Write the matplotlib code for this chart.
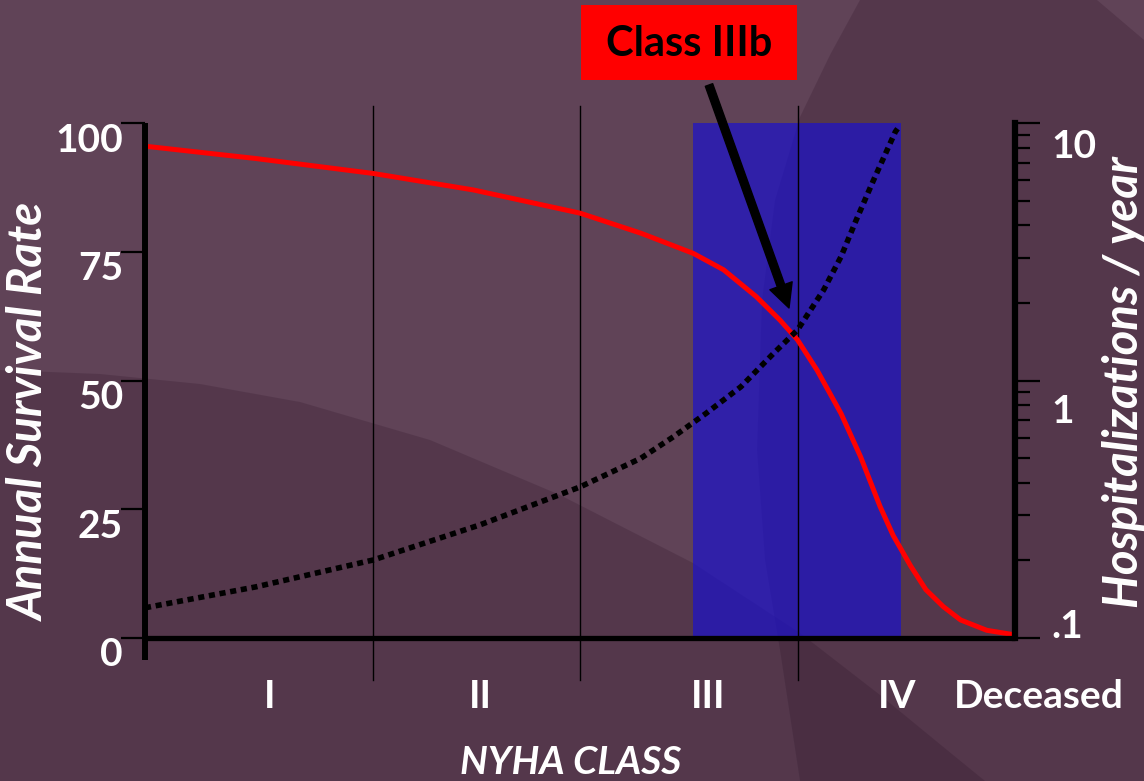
import matplotlib
matplotlib.use('Agg')
import matplotlib.pyplot as plt
from matplotlib.patches import Polygon, Rectangle

# NYHA class axis: class boundaries and label positions
class_labels = ['I', 'II', 'III', 'IV', 'Deceased']
class_label_pos = [0.575, 1.54, 2.59, 3.46, 4.11]
class_bounds = [1.05, 2.0, 3.0]

# annual survival rate (%) along the NYHA scale
surv_x = [0.0, 0.51, 1.05, 1.51, 2.0, 2.28, 2.52, 2.66, 2.81, 2.92, 3.0,
          3.09, 3.2, 3.29, 3.38, 3.44, 3.52, 3.59, 3.67, 3.75, 3.87, 4.0]
surv_y = [95.5, 93.1, 90.2, 87.0, 82.5, 78.6, 74.7, 71.5, 66.3, 61.7, 57.9,
          52.0, 43.6, 35.2, 25.5, 19.9, 14.0, 9.4, 6.1, 3.5, 1.5, 0.6]

# hospitalizations per year (log axis)
hosp_x = [0.0, 0.51, 1.05, 1.54, 2.0, 2.28, 2.43, 2.58, 2.74, 2.89, 3.0,
          3.12, 3.2, 3.27, 3.35, 3.45, 3.46]
hosp_y = [0.131, 0.158, 0.201, 0.275, 0.386, 0.499, 0.605, 0.746, 0.946,
          1.275, 1.571, 2.246, 3.025, 4.20, 6.01, 9.25, 9.5]

# class IIIb band
band_x = (2.52, 3.476)
band_top = 101.2

surv_ticks = [0, 25, 50, 75, 100]
hosp_ticks = [0.1, 1, 10]
hosp_tick_labels = ['.1', '1', '10']

W, H = 1144, 781
BG = '#604357'
SHADE = '#280f23'
FONT = 'Lato'

fig = plt.figure(figsize=(W / 100, H / 100), dpi=100, facecolor=BG)


def px(points):
    # pixel coords (origin top-left) -> figure fraction
    return [(x / W, 1 - y / H) for x, y in points]


# background swooshes
right_sweep = [(860, 0), (830, 55), (800, 117), (775, 200), (762, 300),
               (757, 450), (765, 560), (780, 650), (800, 781), (1144, 781),
               (1144, 0)]
low_sweep = [(0, 370), (100, 374), (200, 384), (300, 402), (430, 440),
             (560, 495), (693, 563), (800, 633), (880, 695), (947, 750),
             (985, 781), (0, 781)]
corner = [(1097, 0), (1144, 40), (1144, 0)]
for pts, col, a in [(right_sweep, SHADE, 0.21), (low_sweep, SHADE, 0.21),
                    (corner, BG, 1.0)]:
    fig.patches.append(Polygon(px(pts), closed=True, transform=fig.transFigure,
                               facecolor=col, edgecolor='none', alpha=a,
                               zorder=-1))

ax = fig.add_axes([145 / W, 1 - 638 / H, 870 / W, 515 / H])
ax.set_facecolor('none')
ax.set_xlim(0, 4)
ax.set_ylim(0, 100)
for s in ax.spines.values():
    s.set_visible(False)

# class IIIb band and class dividers
ax.fill_between(band_x, 0, band_top, color='#1a10d0', alpha=0.68, lw=0,
                zorder=1)
for xb in class_bounds:
    ax.plot([xb, xb], [-8.2, 103.3], color='black', lw=1.0, clip_on=False,
            zorder=2)

ax.plot(surv_x, surv_y, color='#ff0000', lw=3.6, zorder=3,
        solid_capstyle='round', solid_joinstyle='round')

# axis lines
ax.plot([0, 0], [-4.3, 100], color='black', lw=4.3, clip_on=False,
        solid_capstyle='butt', zorder=4)
ax.plot([0, 4], [0, 0], color='black', lw=3.8, clip_on=False,
        solid_capstyle='butt', zorder=4)

ax.set_yticks(surv_ticks)
ax.set_yticklabels([])
ax.tick_params(axis='y', direction='out', length=17, width=1.6,
               color='black')
for v in surv_ticks:
    ax.annotate(str(v), xy=(0, v), xycoords='data', xytext=(-22, -17),
                textcoords='offset pixels', ha='right', va='center',
                color='white', fontsize=28, fontweight='bold', family=FONT,
                annotation_clip=False)

# class names sit below the axis; "Deceased" lies past the right edge
ax.set_xticks([])
for xc, lab in zip(class_label_pos, class_labels):
    ax.annotate(lab, xy=(xc, 0), xycoords=('data', 'axes fraction'),
                xytext=(0, -59), textcoords='offset pixels', ha='center',
                va='center', color='white', fontsize=28, fontweight='bold',
                family=FONT, annotation_clip=False)
ax.set_xlim(0, 4)

ax.text(-0.132, 0.439, 'Annual Survival Rate', transform=ax.transAxes,
        rotation=90, ha='center', va='center', color='white', fontsize=34,
        fontweight='bold', style='italic', family=FONT)
fig.text(571 / W, 1 - 763 / H, 'NYHA CLASS', ha='center', va='center',
         color='white', fontsize=28, fontweight='bold', style='italic',
         family=FONT)

# hospitalizations on a log axis
ax2 = ax.twinx()
ax2.set_yscale('log')
ax2.set_ylim(0.1, 10)
for k in ['top', 'left', 'bottom']:
    ax2.spines[k].set_visible(False)
ax2.spines['right'].set_linewidth(4.5)
ax2.spines['right'].set_color('black')
ax2.set_yticks(hosp_ticks)
ax2.set_yticklabels([])
ax2.yaxis.set_minor_formatter(plt.NullFormatter())
ax2.tick_params(axis='y', which='major', direction='out', length=18,
                width=1.6, color='black')
ax2.tick_params(axis='y', which='minor', direction='out', length=11,
                width=1.6, color='black')
for v, lab, dy in zip(hosp_ticks, hosp_tick_labels, [12, -31, -23]):
    ax2.annotate(lab, xy=(1, v), xycoords=('axes fraction', 'data'),
                 xytext=(36, dy), textcoords='offset pixels', ha='left',
                 va='center', color='white', fontsize=28, fontweight='bold',
                 family=FONT, annotation_clip=False)

ax2.plot(hosp_x, hosp_y, color='black', lw=4.0, ls=(0, (1.1, 0.85)),
         dash_capstyle='butt', zorder=5)

ax2.text(1.125, 0.497, 'Hospitalizations / year', transform=ax2.transAxes,
         rotation=90, ha='center', va='center', color='white', fontsize=34,
         fontweight='bold', style='italic', family=FONT)

# Class IIIb callout
fig.patches.append(Rectangle((581 / W, 1 - 80 / H), 216 / W, 75 / H,
                             transform=fig.transFigure, facecolor='#ff0000',
                             edgecolor='none', zorder=6))
fig.text(689 / W, 1 - 44 / H, 'Class IIIb', ha='center', va='center',
         color='black', fontsize=30, fontweight='bold', family=FONT,
         zorder=7)
ax2.annotate('', xy=(789, H - 308), xycoords='figure pixels',
             xytext=(709, H - 85), textcoords='figure pixels',
             arrowprops=dict(arrowstyle='simple,head_length=0.85,'
                             'head_width=0.85,tail_width=0.28',
                             mutation_scale=20, color='black',
                             shrinkA=0, shrinkB=0), zorder=8)

fig.savefig('out.png', dpi=100, facecolor=BG)
